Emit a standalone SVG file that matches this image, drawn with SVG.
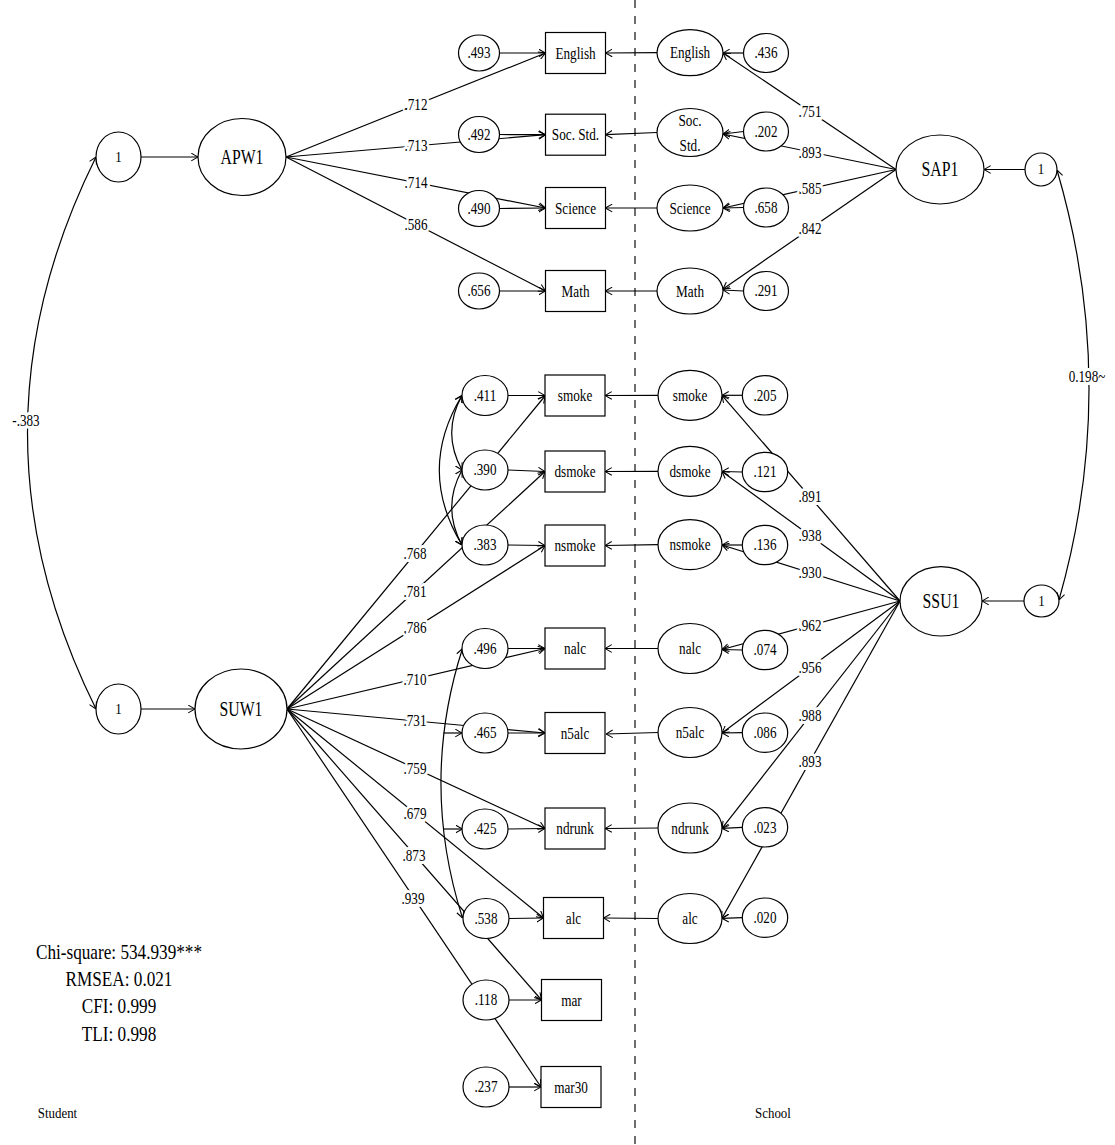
<svg xmlns="http://www.w3.org/2000/svg" width="1115" height="1145" viewBox="0 0 1115 1145">
<defs>
<marker id="ah" viewBox="0 0 8 10" refX="8" refY="5" markerWidth="7" markerHeight="9" markerUnits="userSpaceOnUse" orient="auto-start-reverse">
<path d="M0.3,0.6 L8,5 L0.3,9.4" fill="none" stroke="#000" stroke-width="1.2"/>
</marker>
<style>
.ln{fill:none;stroke:#000;stroke-width:1.2}
.ar{marker-end:url(#ah)}
.bi{marker-start:url(#ah);marker-end:url(#ah)}
.nd{fill:#fff;stroke:#000;stroke-width:1.2}
.dash{stroke:#6e6e6e;stroke-width:2;stroke-dasharray:8 8}
text{font-family:"Liberation Serif","Times New Roman",serif;text-anchor:middle;fill:#000;transform-box:fill-box;transform-origin:center}
.c{dominant-baseline:central}
.t15{font-size:15px;transform:scaleX(.86)}
.t16{font-size:16px;transform:scaleX(.82)}
.tw{font-size:16.5px;transform:scaleX(.8)}
.t20{font-size:20px;transform:scaleX(.79)}
.t21{font-size:21px;transform:scaleX(.75)}
.ts{font-size:21.5px;transform:scaleX(.8)}
.lbl{stroke:#fff;stroke-width:6;paint-order:stroke;stroke-linejoin:round}
</style>
</defs>
<rect width="1115" height="1145" fill="#fff"/>
<line class="dash" x1="635" y1="0" x2="635" y2="1145"/>

<g id="connectors">
<!-- student academic -->
<path class="ln ar" d="M141,157 L198,157"/>
<path class="ln ar" d="M286,157 L545.5,53"/>
<path class="ln ar" d="M286,157 L545.5,134.7"/>
<path class="ln ar" d="M286,157 L545.5,208"/>
<path class="ln ar" d="M286,157 L545.5,291"/>
<path class="ln ar" d="M499.5,53 L545.5,53"/>
<path class="ln ar" d="M499.5,134.5 L545.5,134.7"/>
<path class="ln ar" d="M499.5,208.5 L545.5,208"/>
<path class="ln ar" d="M499.5,291 L545.5,291"/>
<!-- school academic -->
<path class="ln ar" d="M657,52.7 L605.5,53"/>
<path class="ln ar" d="M657,132.5 L605.5,134.7"/>
<path class="ln ar" d="M657,208 L605.5,208"/>
<path class="ln ar" d="M657,291 L605.5,291"/>
<path class="ln ar" d="M743.5,53 L723,53"/>
<path class="ln ar" d="M743.5,131.5 L723,134"/>
<path class="ln ar" d="M743.5,207.5 L723,208"/>
<path class="ln ar" d="M743.5,291 L723,290"/>
<path class="ln ar" d="M896,169.5 L723,53"/>
<path class="ln ar" d="M896,169.5 L723,134"/>
<path class="ln ar" d="M896,169.5 L723,208"/>
<path class="ln ar" d="M896,169.5 L723,289"/>
<path class="ln ar" d="M1025,169.5 L984,169.5"/>
<!-- factor covariances -->
<path class="ln bi" d="M96,157 Q-41,433 96,709"/>
<path class="ln bi" d="M1057,170 Q1120,385 1059,600"/>
<!-- student substance use -->
<path class="ln ar" d="M141,709 L195,709"/>
<path class="ln ar" d="M287,709 L545,396"/>
<path class="ln ar" d="M287,709 L545,471.5"/>
<path class="ln ar" d="M287,709 L545,545.5"/>
<path class="ln ar" d="M287,709 L545,648.5"/>
<path class="ln ar" d="M287,709 L545,733"/>
<path class="ln ar" d="M287,709 L545,828.5"/>
<path class="ln ar" d="M287,709 L543.5,918"/>
<path class="ln ar" d="M287,709 L541.5,1000"/>
<path class="ln ar" d="M287,709 L541,1087"/>
<path class="ln ar" d="M508,395.5 L545,395.5"/>
<path class="ln ar" d="M508,470 L545,471.5"/>
<path class="ln ar" d="M508,545 L545,545.5"/>
<path class="ln ar" d="M508,648.5 L545,648.5"/>
<path class="ln ar" d="M508,733 L545,733"/>
<path class="ln ar" d="M508,829 L545,828.5"/>
<path class="ln ar" d="M509,918.5 L543.5,918"/>
<path class="ln ar" d="M509,1000 L541.5,1000"/>
<path class="ln ar" d="M509,1087 L541,1087"/>
<path class="ln bi" d="M462,395.5 Q441.4,432.7 462,470"/>
<path class="ln bi" d="M462,395.5 Q416.6,470 462,545"/>
<path class="ln bi" d="M462,470 Q441.4,507.5 462,545"/>
<path class="ln bi" d="M462.5,648.5 Q419.4,783 462.5,918"/>
<path class="ln ar" d="M443.5,733 L462,733"/>
<path class="ln ar" d="M443.5,829 L462.5,829"/>
<!-- school substance use -->
<path class="ln ar" d="M658,395.3 L605,395.5"/>
<path class="ln ar" d="M658,471.3 L605,471.5"/>
<path class="ln ar" d="M658,544.7 L605,545.5"/>
<path class="ln ar" d="M658,648.5 L605,648.5"/>
<path class="ln ar" d="M658,732.5 L606,734"/>
<path class="ln ar" d="M658,828 L605,828.5"/>
<path class="ln ar" d="M658,918.5 L603.5,918"/>
<path class="ln ar" d="M742.3,395.3 L722,395.3"/>
<path class="ln ar" d="M742.3,472 L722,471.5"/>
<path class="ln ar" d="M742.3,545 L722,545"/>
<path class="ln ar" d="M742.3,650 L722,649.5"/>
<path class="ln ar" d="M742.3,732.7 L722,733"/>
<path class="ln ar" d="M742.3,827.3 L722,828.3"/>
<path class="ln ar" d="M742.3,917.7 L722,918.3"/>
<path class="ln ar" d="M900,601 L722,395.3"/>
<path class="ln ar" d="M900,601 L722,471.5"/>
<path class="ln ar" d="M900,601 L722,545"/>
<path class="ln ar" d="M900,601 L722,649.5"/>
<path class="ln ar" d="M900,601 L722,733"/>
<path class="ln ar" d="M900,601 L722,828.3"/>
<path class="ln ar" d="M900,601 L722,918.3"/>
<path class="ln ar" d="M1024,601 L982,601"/>
<!-- labels -->
<text class="t16 c lbl" x="416" y="105">.712</text>
<text class="t16 c lbl" x="416" y="145.8">.713</text>
<text class="t16 c lbl" x="416" y="182.6">.714</text>
<text class="t16 c lbl" x="416" y="224.1">.586</text>
<text class="t16 c lbl" x="810" y="111.6">.751</text>
<text class="t16 c lbl" x="810" y="152.4">.893</text>
<text class="t16 c lbl" x="810" y="188.6">.585</text>
<text class="t16 c lbl" x="810" y="228.9">.842</text>
<text class="t16 c lbl" x="26" y="421">-.383</text>
<text class="t16 c lbl" x="1087" y="377">0.198~</text>
<text class="t16 c lbl" x="415" y="553.7">.768</text>
<text class="t16 c lbl" x="415" y="591.4">.781</text>
<text class="t16 c lbl" x="415" y="627.9">.786</text>
<text class="t16 c lbl" x="415" y="679.7">.710</text>
<text class="t16 c lbl" x="415" y="720.9">.731</text>
<text class="t16 c lbl" x="415" y="768.3">.759</text>
<text class="t16 c lbl" x="415" y="813.3">.679</text>
<text class="t16 c lbl" x="414" y="855.4">.873</text>
<text class="t16 c lbl" x="413" y="899">.939</text>
<text class="t16 c lbl" x="810" y="497">.891</text>
<text class="t16 c lbl" x="810" y="535.6">.938</text>
<text class="t16 c lbl" x="810" y="572.7">.930</text>
<text class="t16 c lbl" x="810" y="625.8">.962</text>
<text class="t16 c lbl" x="810" y="668">.956</text>
<text class="t16 c lbl" x="810" y="716">.988</text>
<text class="t16 c lbl" x="810" y="761.6">.893</text>
</g>

<!-- student academic nodes -->
<g id="L1"><ellipse class="nd" cx="118.5" cy="157" rx="22.5" ry="25"/><text class="t15 c" x="118.5" y="157">1</text></g>
<g id="APW1"><ellipse class="nd" cx="242" cy="157" rx="44" ry="38.5"/><text class="t21 c" x="242" y="157">APW1</text></g>
<g id="e_eng_s"><ellipse class="nd" cx="479" cy="53" rx="20.5" ry="18"/><text class="t16 c" x="479" y="53">.493</text></g>
<g id="e_soc_s"><ellipse class="nd" cx="479" cy="134.5" rx="20.5" ry="18"/><text class="t16 c" x="479" y="134.5">.492</text></g>
<g id="e_sci_s"><ellipse class="nd" cx="479" cy="208.5" rx="20.5" ry="18"/><text class="t16 c" x="479" y="208.5">.490</text></g>
<g id="e_mat_s"><ellipse class="nd" cx="479" cy="291" rx="20.5" ry="18"/><text class="t16 c" x="479" y="291">.656</text></g>
<g id="b_eng"><rect class="nd" x="545.5" y="32.5" width="60" height="41"/><text class="tw c" x="575.5" y="53">English</text></g>
<g id="b_soc"><rect class="nd" x="545.5" y="114.2" width="60" height="41"/><text class="tw c" x="575.5" y="134.7">Soc. Std.</text></g>
<g id="b_sci"><rect class="nd" x="545.5" y="187.5" width="60" height="41"/><text class="tw c" x="575.5" y="208">Science</text></g>
<g id="b_mat"><rect class="nd" x="545.5" y="270.5" width="60" height="41"/><text class="tw c" x="575.5" y="291">Math</text></g>

<!-- school academic nodes -->
<g id="s_eng"><ellipse class="nd" cx="690" cy="52.7" rx="33" ry="23"/><text class="tw c" x="690" y="52.7">English</text></g>
<g id="s_soc"><ellipse class="nd" cx="690" cy="132.5" rx="33" ry="24"/><text class="tw c" x="690" y="120.5">Soc.</text><text class="tw c" x="690" y="145">Std.</text></g>
<g id="s_sci"><ellipse class="nd" cx="690" cy="208" rx="33" ry="23"/><text class="tw c" x="690" y="208">Science</text></g>
<g id="s_mat"><ellipse class="nd" cx="690" cy="291" rx="33" ry="23"/><text class="tw c" x="690" y="291">Math</text></g>
<g id="e_eng_c"><ellipse class="nd" cx="766" cy="53" rx="22.5" ry="19.5"/><text class="t16 c" x="766" y="53">.436</text></g>
<g id="e_soc_c"><ellipse class="nd" cx="766" cy="131.5" rx="22.5" ry="19.5"/><text class="t16 c" x="766" y="131.5">.202</text></g>
<g id="e_sci_c"><ellipse class="nd" cx="766" cy="207.5" rx="22.5" ry="19.5"/><text class="t16 c" x="766" y="207.5">.658</text></g>
<g id="e_mat_c"><ellipse class="nd" cx="766" cy="291" rx="22.5" ry="19.5"/><text class="t16 c" x="766" y="291">.291</text></g>
<g id="SAP1"><ellipse class="nd" cx="940" cy="169.5" rx="44" ry="34.5"/><text class="t20 c" x="940" y="169.5">SAP1</text></g>
<g id="R1"><ellipse class="nd" cx="1041" cy="169.5" rx="16" ry="16.5"/><text class="t15 c" x="1041" y="169.5">1</text></g>

<!-- student substance nodes -->
<g id="L2"><ellipse class="nd" cx="118.5" cy="709" rx="22.5" ry="25"/><text class="t15 c" x="118.5" y="709">1</text></g>
<g id="SUW1"><ellipse class="nd" cx="241" cy="709" rx="46" ry="40"/><text class="t21 c" x="241" y="709">SUW1</text></g>
<g id="e_smoke_s"><ellipse class="nd" cx="485" cy="395.5" rx="23" ry="20"/><text class="t16 c" x="485" y="395.5">.411</text></g>
<g id="e_dsmoke_s"><ellipse class="nd" cx="485" cy="470" rx="23" ry="20"/><text class="t16 c" x="485" y="470">.390</text></g>
<g id="e_nsmoke_s"><ellipse class="nd" cx="485" cy="545" rx="23" ry="20"/><text class="t16 c" x="485" y="545">.383</text></g>
<g id="e_nalc_s"><ellipse class="nd" cx="485" cy="648.5" rx="23" ry="20"/><text class="t16 c" x="485" y="648.5">.496</text></g>
<g id="e_n5alc_s"><ellipse class="nd" cx="485" cy="733" rx="23" ry="20"/><text class="t16 c" x="485" y="733">.465</text></g>
<g id="e_ndrunk_s"><ellipse class="nd" cx="485" cy="829" rx="23" ry="20"/><text class="t16 c" x="485" y="829">.425</text></g>
<g id="e_alc_s"><ellipse class="nd" cx="486" cy="918.5" rx="23" ry="20"/><text class="t16 c" x="486" y="918.5">.538</text></g>
<g id="e_mar_s"><ellipse class="nd" cx="486" cy="1000" rx="23" ry="20"/><text class="t16 c" x="486" y="1000">.118</text></g>
<g id="e_mar30_s"><ellipse class="nd" cx="486" cy="1087" rx="23" ry="20"/><text class="t16 c" x="486" y="1087">.237</text></g>
<g id="b_smoke"><rect class="nd" x="545" y="375" width="60" height="41"/><text class="tw c" x="575" y="395.5">smoke</text></g>
<g id="b_dsmoke"><rect class="nd" x="545" y="451" width="60" height="41"/><text class="tw c" x="575" y="471.5">dsmoke</text></g>
<g id="b_nsmoke"><rect class="nd" x="545" y="525" width="60" height="41"/><text class="tw c" x="575" y="545.5">nsmoke</text></g>
<g id="b_nalc"><rect class="nd" x="545" y="628" width="60" height="41"/><text class="tw c" x="575" y="648.5">nalc</text></g>
<g id="b_n5alc"><rect class="nd" x="545" y="712.5" width="60" height="41"/><text class="tw c" x="575" y="733">n5alc</text></g>
<g id="b_ndrunk"><rect class="nd" x="545" y="808" width="60" height="41"/><text class="tw c" x="575" y="828.5">ndrunk</text></g>
<g id="b_alc"><rect class="nd" x="543.5" y="897.5" width="60" height="41"/><text class="tw c" x="573.5" y="918">alc</text></g>
<g id="b_mar"><rect class="nd" x="541.5" y="979.5" width="60" height="41"/><text class="tw c" x="571.5" y="1000">mar</text></g>
<g id="b_mar30"><rect class="nd" x="541" y="1066.5" width="60" height="41"/><text class="tw c" x="571" y="1087">mar30</text></g>

<!-- school substance nodes -->
<g id="s_smoke"><ellipse class="nd" cx="690" cy="395.3" rx="32" ry="25"/><text class="tw c" x="690" y="395.3">smoke</text></g>
<g id="s_dsmoke"><ellipse class="nd" cx="690" cy="471.3" rx="32" ry="25"/><text class="tw c" x="690" y="471.3">dsmoke</text></g>
<g id="s_nsmoke"><ellipse class="nd" cx="690" cy="544.7" rx="32" ry="25"/><text class="tw c" x="690" y="544.7">nsmoke</text></g>
<g id="s_nalc"><ellipse class="nd" cx="690" cy="648.5" rx="32" ry="25"/><text class="tw c" x="690" y="648.5">nalc</text></g>
<g id="s_n5alc"><ellipse class="nd" cx="690" cy="732.5" rx="32" ry="25"/><text class="tw c" x="690" y="732.5">n5alc</text></g>
<g id="s_ndrunk"><ellipse class="nd" cx="690" cy="828" rx="32" ry="25"/><text class="tw c" x="690" y="828">ndrunk</text></g>
<g id="s_alc"><ellipse class="nd" cx="690" cy="918.5" rx="32" ry="25"/><text class="tw c" x="690" y="918.5">alc</text></g>
<g id="e_smoke_c"><ellipse class="nd" cx="765" cy="395.3" rx="22.7" ry="19.7"/><text class="t16 c" x="765" y="395.3">.205</text></g>
<g id="e_dsmoke_c"><ellipse class="nd" cx="765" cy="472" rx="22.7" ry="19.7"/><text class="t16 c" x="765" y="472">.121</text></g>
<g id="e_nsmoke_c"><ellipse class="nd" cx="765" cy="545" rx="22.7" ry="19.7"/><text class="t16 c" x="765" y="545">.136</text></g>
<g id="e_nalc_c"><ellipse class="nd" cx="765" cy="650" rx="22.7" ry="19.7"/><text class="t16 c" x="765" y="650">.074</text></g>
<g id="e_n5alc_c"><ellipse class="nd" cx="765" cy="732.7" rx="22.7" ry="19.7"/><text class="t16 c" x="765" y="732.7">.086</text></g>
<g id="e_ndrunk_c"><ellipse class="nd" cx="765" cy="827.3" rx="22.7" ry="19.7"/><text class="t16 c" x="765" y="827.3">.023</text></g>
<g id="e_alc_c"><ellipse class="nd" cx="765" cy="917.7" rx="22.7" ry="19.7"/><text class="t16 c" x="765" y="917.7">.020</text></g>
<g id="SSU1"><ellipse class="nd" cx="941" cy="601.3" rx="41" ry="34.7"/><text class="t20 c" x="941" y="601.3">SSU1</text></g>
<g id="R2"><ellipse class="nd" cx="1041.5" cy="601" rx="17.5" ry="16"/><text class="t15 c" x="1041.5" y="601">1</text></g>

<g id="fit">
<text class="ts" x="119" y="959">Chi-square: 534.939***</text>
<text class="ts" x="119" y="986">RMSEA: 0.021</text>
<text class="ts" x="119" y="1013">CFI: 0.999</text>
<text class="ts" x="119" y="1041">TLI: 0.998</text>
</g>
<text class="t15" x="57.5" y="1118">Student</text>
<text class="t15" x="773" y="1118">School</text>
</svg>
